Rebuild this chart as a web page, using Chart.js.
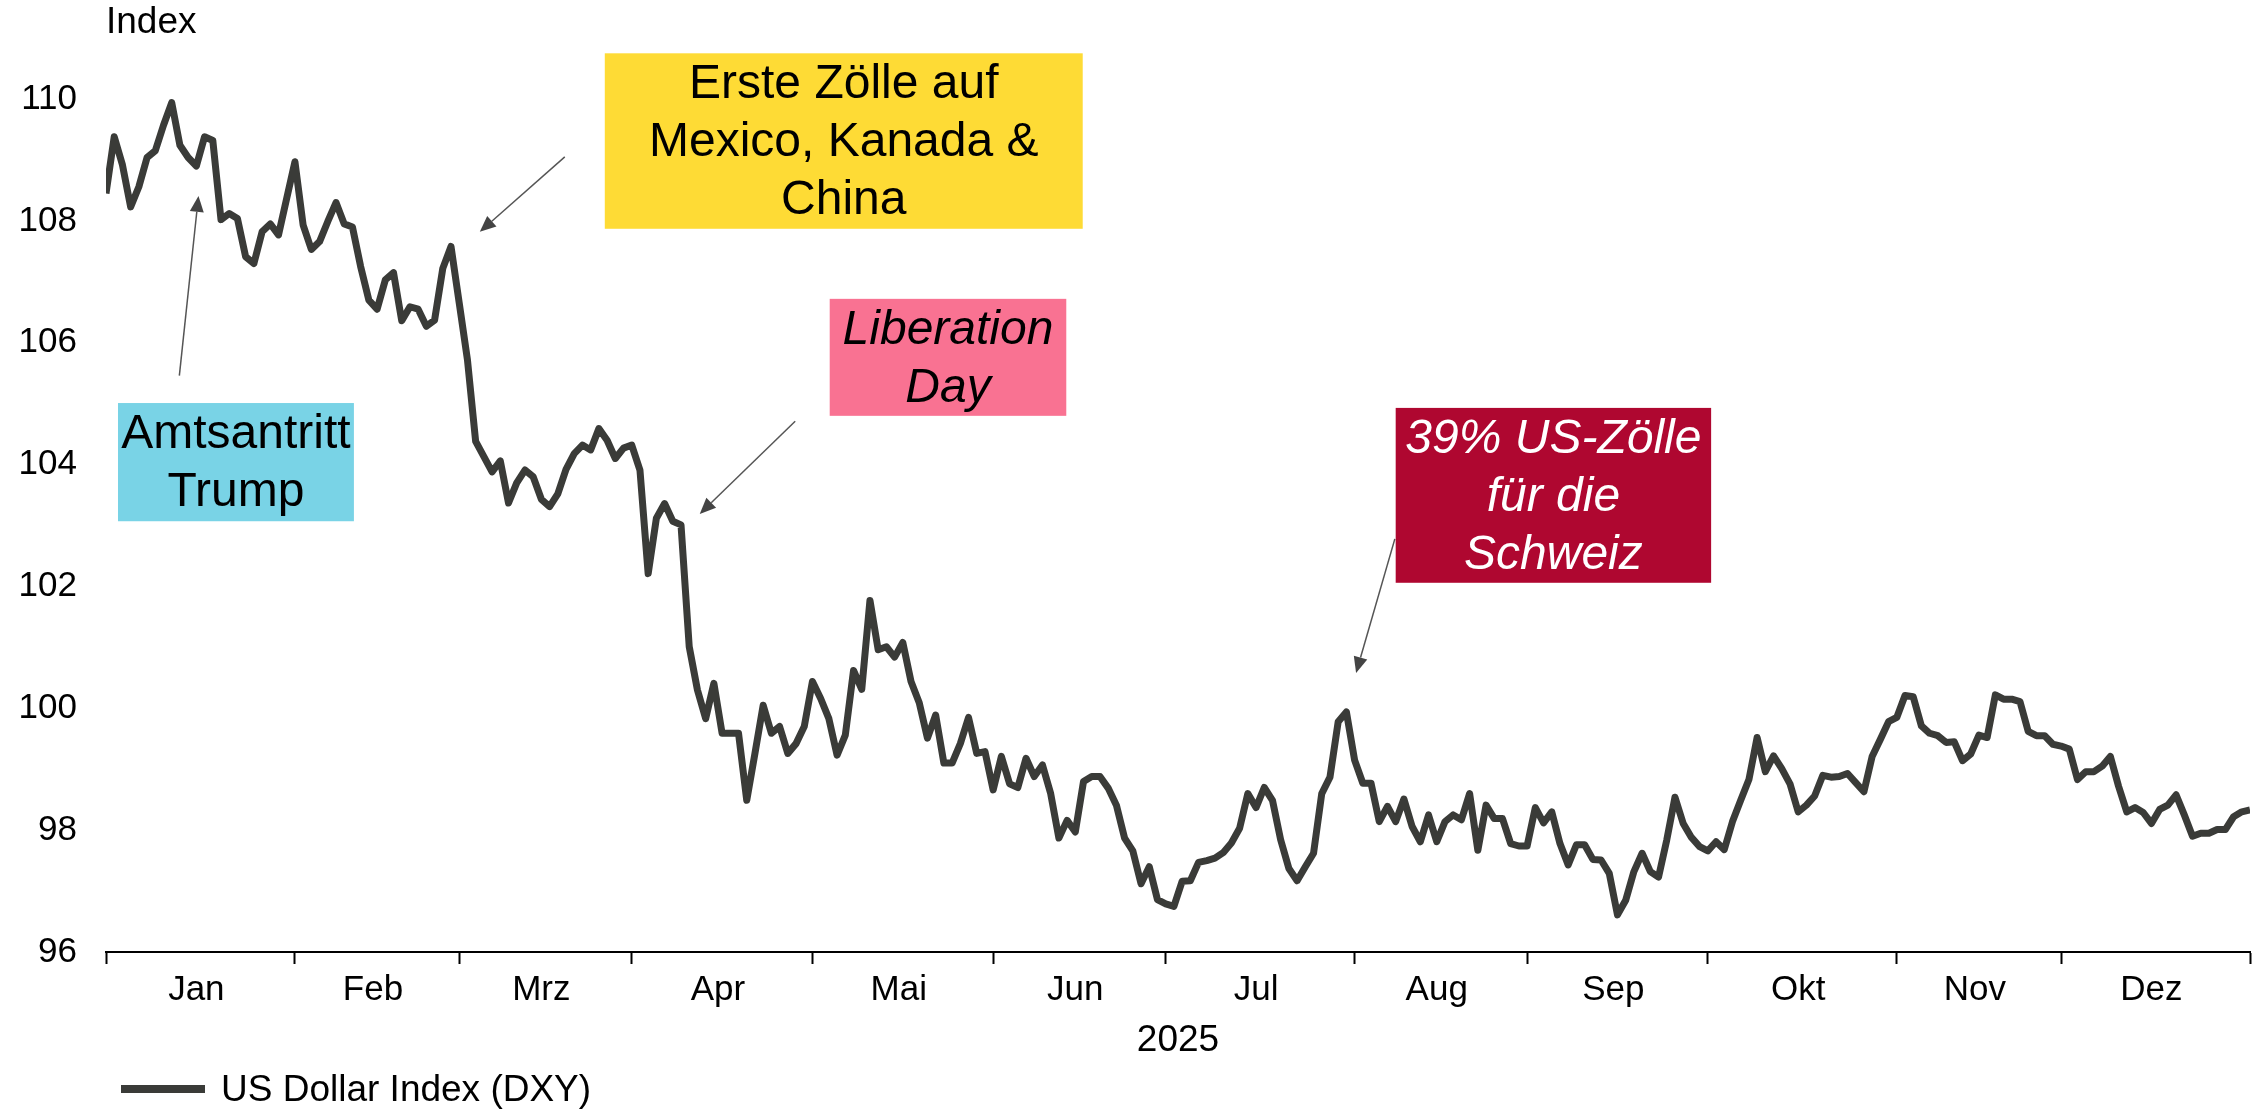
<!DOCTYPE html>
<html lang="de">
<head>
<meta charset="utf-8">
<title>US Dollar Index (DXY) 2025</title>
<script src="https://cdn.jsdelivr.net/npm/chart.js@4.4.1/dist/chart.umd.min.js"></script>
<style>
  html, body { margin: 0; padding: 0; background: #fff; }
  #wrap { position: relative; width: 2255px; height: 1109px; }
  #dxyChart { display: block; }
  #legend {
    position: absolute; left: 121px; top: 1066px; height: 46px;
    display: flex; align-items: center;
    font: 37px 'Liberation Sans', Arial, sans-serif; color: #000;
  }
  #legend .swatch { width: 84px; height: 8px; background: #3a3b38; margin-right: 16px; }
</style>
</head>
<body>
<div id="wrap">
  <canvas id="dxyChart" width="2255" height="1109"></canvas>
  <div id="legend"><span class="swatch"></span><span>US Dollar Index (DXY)</span></div>
</div>
<script>
// US Dollar Index (DXY), one value per trading day, 2025
const dxyValues = [
  108.45, 109.38, 108.92, 108.23, 108.56, 109.04, 109.15, 109.57, 109.94, 109.24,
  109.04, 108.90, 109.38, 109.32, 108.02, 108.12, 108.04, 107.41, 107.30, 107.82,
  107.95, 107.77, 108.37, 108.97, 107.93, 107.53, 107.66, 107.99, 108.30, 107.95,
  107.90, 107.25, 106.70, 106.55, 107.03, 107.15, 106.36, 106.59, 106.55, 106.27,
  106.37, 107.22, 107.58, 106.65, 105.72, 104.38, 104.13, 103.88, 104.06, 103.37,
  103.70, 103.91, 103.80, 103.43, 103.31, 103.52, 103.92, 104.18, 104.32, 104.24,
  104.59, 104.40, 104.10, 104.27, 104.32, 103.91, 102.21, 103.12, 103.36, 103.07,
  103.01, 101.01, 100.30, 99.83, 100.41, 99.59, 99.59, 99.59, 98.49, 99.26,
  100.05, 99.59, 99.70, 99.26, 99.42, 99.70, 100.44, 100.16, 99.83, 99.23,
  99.56, 100.62, 100.31, 101.77, 100.96, 101.01, 100.84, 101.08, 100.44, 100.09,
  99.51, 99.89, 99.10, 99.10, 99.42, 99.85, 99.26, 99.29, 98.66, 99.21,
  98.76, 98.70, 99.18, 98.88, 99.07, 98.60, 97.87, 98.16, 97.97, 98.80,
  98.88, 98.88, 98.69, 98.41, 97.87, 97.66, 97.12, 97.40, 96.86, 96.79,
  96.75, 97.16, 97.17, 97.47, 97.50, 97.54, 97.63, 97.79, 98.03, 98.60,
  98.37, 98.70, 98.49, 97.84, 97.37, 97.17, 97.40, 97.62, 98.60, 98.87,
  99.78, 99.94, 99.15, 98.77, 98.77, 98.14, 98.39, 98.14, 98.51, 98.06,
  97.81, 98.25, 97.81, 98.14, 98.25, 98.17, 98.60, 97.67, 98.41, 98.19,
  98.19, 97.78, 97.74, 97.74, 98.37, 98.12, 98.30, 97.78, 97.43, 97.76,
  97.76, 97.52, 97.51, 97.29, 96.61, 96.85, 97.32, 97.62, 97.32, 97.23,
  97.84, 98.54, 98.11, 97.88, 97.73, 97.66, 97.81, 97.68, 98.14, 98.49,
  98.83, 99.52, 98.96, 99.22, 99.01, 98.76, 98.30, 98.41, 98.56, 98.90,
  98.87, 98.88, 98.93, 98.78, 98.63, 99.21, 99.49, 99.78, 99.85, 100.21,
  100.19, 99.71, 99.59, 99.55, 99.44, 99.45, 99.14, 99.25, 99.56, 99.52,
  100.22, 100.15, 100.15, 100.11, 99.62, 99.55, 99.55, 99.41, 99.38, 99.33,
  98.83, 98.96, 98.96, 99.05, 99.21, 98.72, 98.30, 98.37, 98.29, 98.11,
  98.34, 98.41, 98.58, 98.25, 97.90, 97.95, 97.95, 98.01, 98.01, 98.22,
  98.30, 98.33
];
const months = ['Jan', 'Feb', 'Mrz', 'Apr', 'Mai', 'Jun', 'Jul', 'Aug', 'Sep', 'Okt', 'Nov', 'Dez'];
const tradingDaysPerMonth = [23, 20, 21, 22, 22, 21, 23, 21, 22, 23, 20, 23];
const yTicks = [96, 98, 100, 102, 104, 106, 108, 110];

const FONT = "'Liberation Sans', Arial, sans-serif";
const LINE_COLOR = '#3a3b38';

// month boundaries (tick marks) and month centres (labels)
const xTicks = [];
let dayCount = 0;
months.forEach((m, k) => {
  const n = tradingDaysPerMonth[k];
  xTicks.push({ value: dayCount, label: '' });
  xTicks.push({ value: dayCount + (n - 1) / 2, label: m });
  dayCount += n;
});
xTicks.push({ value: dayCount, label: '' });

// call-out boxes, placed in axis units (trading day, index value)
const notes = [
  { lines: ['Amtsantritt', 'Trump'], bg: '#79d3e6', color: '#000', italic: false,
    box: [1.46, 30.18, 105.01, 103.07], from: [8.93, 105.46], to: [11.26, 108.41] },
  { lines: ['Erste Zölle auf', 'Mexico, Kanada &', 'China'], bg: '#fedb35', color: '#000', italic: false,
    box: [60.72, 118.9, 110.75, 107.87], from: [55.85, 109.05], to: [45.51, 107.82] },
  { lines: ['Liberation', 'Day'], bg: '#f97292', color: '#000', italic: true,
    box: [88.1, 116.9, 106.72, 104.80], from: [83.9, 104.71], to: [72.28, 103.19] },
  { lines: ['39% US-Zölle', 'für die', 'Schweiz'], bg: '#af0730', color: '#fff', italic: true,
    box: [157.0, 195.4, 104.93, 102.06], from: [156.9, 102.78], to: [152.18, 100.58] }
];

const calloutPlugin = {
  id: 'callouts',
  afterDraw(chart) {
    const { ctx, scales: { x, y }, chartArea } = chart;
    ctx.save();

    // y axis unit above the axis
    ctx.fillStyle = '#000';
    ctx.font = '37px ' + FONT;
    ctx.textAlign = 'left';
    ctx.textBaseline = 'middle';
    ctx.fillText('Index', chartArea.left, 23);

    notes.forEach(n => {
      // arrow
      const x0 = x.getPixelForValue(n.from[0]), y0 = y.getPixelForValue(n.from[1]);
      const x1 = x.getPixelForValue(n.to[0]), y1 = y.getPixelForValue(n.to[1]);
      const ang = Math.atan2(y1 - y0, x1 - x0);
      const headLen = 16, headW = 7;
      ctx.strokeStyle = '#555';
      ctx.fillStyle = '#444';
      ctx.lineWidth = 1.5;
      ctx.beginPath();
      ctx.moveTo(x0, y0);
      ctx.lineTo(x1 - Math.cos(ang) * headLen, y1 - Math.sin(ang) * headLen);
      ctx.stroke();
      ctx.beginPath();
      ctx.moveTo(x1, y1);
      ctx.lineTo(x1 - Math.cos(ang) * headLen + Math.sin(ang) * headW, y1 - Math.sin(ang) * headLen - Math.cos(ang) * headW);
      ctx.lineTo(x1 - Math.cos(ang) * headLen - Math.sin(ang) * headW, y1 - Math.sin(ang) * headLen + Math.cos(ang) * headW);
      ctx.closePath();
      ctx.fill();

      // box + text
      const bx0 = x.getPixelForValue(n.box[0]), bx1 = x.getPixelForValue(n.box[1]);
      const by0 = y.getPixelForValue(n.box[2]), by1 = y.getPixelForValue(n.box[3]);
      ctx.fillStyle = n.bg;
      ctx.fillRect(bx0, by0, bx1 - bx0, by1 - by0);
      ctx.fillStyle = n.color;
      ctx.font = (n.italic ? 'italic ' : '') + '48px ' + FONT;
      ctx.textAlign = 'center';
      ctx.textBaseline = 'middle';
      const lh = 58;
      const cx = (bx0 + bx1) / 2, cy = (by0 + by1) / 2;
      n.lines.forEach((t, i) => {
        ctx.fillText(t, cx, cy + (i - (n.lines.length - 1) / 2) * lh + 2);
      });
    });
    ctx.restore();
  }
};

const chart = new Chart(document.getElementById('dxyChart'), {
  type: 'line',
  data: {
    datasets: [{
      label: 'US Dollar Index (DXY)',
      data: dxyValues.map((v, i) => ({ x: i, y: v })),
      borderColor: LINE_COLOR,
      backgroundColor: LINE_COLOR,
      borderWidth: 7,
      borderJoinStyle: 'round',
      pointRadius: 0,
      tension: 0
    }]
  },
  options: {
    responsive: false,
    devicePixelRatio: 1,
    animation: false,
    layout: { padding: { top: 99, right: 4, bottom: 0, left: 0 } },
    plugins: {
      legend: { display: false },
      tooltip: { enabled: false }
    },
    scales: {
      x: {
        type: 'linear',
        min: 0,
        max: dayCount,
        afterBuildTicks: scale => { scale.ticks = xTicks.map(t => ({ value: t.value })); },
        afterFit: scale => { scale.height = 157; },
        ticks: {
          autoSkip: false,
          maxRotation: 0,
          padding: 5,
          color: '#000',
          font: { family: FONT, size: 35 },
          callback: (v, i) => xTicks[i] ? xTicks[i].label : ''
        },
        grid: {
          drawOnChartArea: false,
          tickLength: 12,
          tickWidth: 2,
          tickColor: c => (c.tick && c.tick.label) ? 'rgba(0,0,0,0)' : '#000'
        },
        border: { display: true, color: '#000', width: 2 },
        title: {
          display: true,
          text: '2025',
          color: '#000',
          font: { family: FONT, size: 37 },
          padding: { top: 0, bottom: 46 }
        }
      },
      y: {
        min: 96,
        max: 110,
        afterBuildTicks: scale => { scale.ticks = yTicks.map(v => ({ value: v })); },
        afterFit: scale => { scale.width = 106; },
        ticks: {
          padding: 29,
          color: '#000',
          font: { family: FONT, size: 35 }
        },
        grid: { display: false, drawTicks: false },
        border: { display: false }
      }
    }
  },
  plugins: [calloutPlugin]
});
</script>
</body>
</html>
